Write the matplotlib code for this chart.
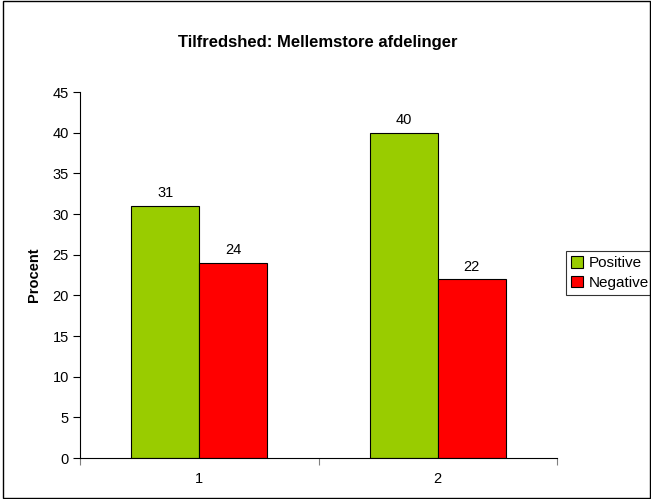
import matplotlib
matplotlib.use("Agg")
import matplotlib.pyplot as plt
from matplotlib.patches import Rectangle
import numpy as np

plt.rcParams['font.family'] = ['Liberation Sans', 'DejaVu Sans']

# data
categories = ['1', '2']
positive = [31, 40]
negative = [24, 22]
series_names = ['Positive', 'Negative']
colors = ['#99CC00', '#FF0000']

fig = plt.figure(figsize=(6.51, 4.99), dpi=100)
ax = fig.add_axes([80/651, 41/499, 477/651, 366/499])

x = np.arange(len(categories))
w = 0.285
b1 = ax.bar(x - w/2, positive, w, color=colors[0], edgecolor='black', linewidth=0.8, label=series_names[0])
b2 = ax.bar(x + w/2, negative, w, color=colors[1], edgecolor='black', linewidth=0.8, label=series_names[1])

for bars in (b1, b2):
    for r in bars:
        ax.annotate(f'{r.get_height():g}', (r.get_x() + r.get_width()/2, r.get_height()),
                    xytext=(0, 4), textcoords='offset points', ha='center', va='bottom', fontsize=10.5)

ax.set_xlim(-0.5, len(categories) - 0.5)
ax.set_ylim(0, 45)
ax.set_yticks(range(0, 46, 5))
ax.set_xticks(np.arange(-0.5, len(categories), 1.0))
ax.set_xticklabels([])
ax.set_xticks(x, minor=True)
ax.set_xticklabels(categories, minor=True)
ax.tick_params(axis='x', which='minor', length=0, pad=10, labelsize=10.5)
ax.tick_params(axis='x', which='major', length=5, direction='out', color='gray')
ax.tick_params(axis='y', length=5, direction='out', labelsize=10.5, pad=3)

for s in ('top', 'right'):
    ax.spines[s].set_visible(False)
ax.spines['left'].set_linewidth(0.8)
ax.spines['bottom'].set_linewidth(0.8)

ax.set_ylabel('Procent', fontsize=10.5, fontweight='bold', labelpad=8)
fig.text(318/651, 1 - 42/499, 'Tilfredshed: Mellemstore afdelinger', ha='center', va='center',
         fontsize=12, fontweight='bold')

leg = ax.legend(loc='center left', bbox_to_anchor=(566/651, 1 - 273/499), bbox_transform=fig.transFigure,
                frameon=True, fancybox=False, fontsize=11, handlelength=0.75, handleheight=0.75,
                handletextpad=0.4, borderpad=0.35, labelspacing=0.35, borderaxespad=0)
leg.get_frame().set_edgecolor('black')
leg.get_frame().set_linewidth(0.8)

fig.patches.append(Rectangle((0.004, 0.003), 0.994, 0.994, transform=fig.transFigure,
                             fill=False, edgecolor='black', linewidth=1))

fig.savefig('out.png', dpi=100)
